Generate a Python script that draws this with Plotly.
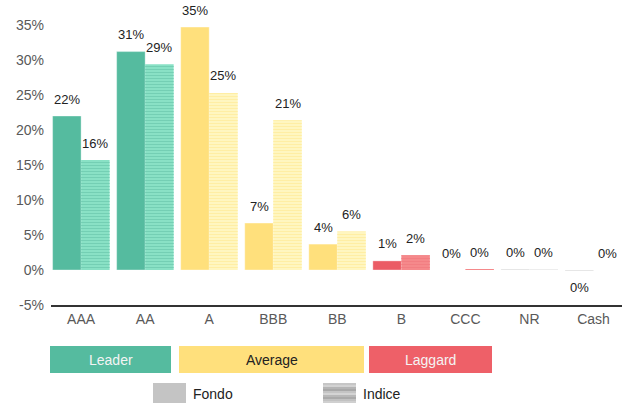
import plotly.graph_objects as go

categories = ["AAA", "AA", "A", "BBB", "BB", "B", "CCC", "NR", "Cash"]
fondo = [22.0, 31.2, 34.7, 6.7, 3.7, 1.3, 0.0, 0.1, -0.1]
indice = [15.7, 29.4, 25.3, 21.4, 5.5, 2.1, 0.1, 0.1, 0.0]
groups = ["Leader", "Leader", "Average", "Average", "Average", "Laggard", "Laggard", "None", "None"]
group_labels = ["Leader", "Average", "Laggard"]
series_labels = ["Fondo", "Indice"]

fund_col = {"Leader": "#55BB9F", "Average": "#FFE07C", "Laggard": "#EB5C65", "None": "#C4C4C4"}
idx_bg = {"Leader": "#8BE2C7", "Average": "#FFF6C2", "Laggard": "#F58A8C", "None": "#EDEDED"}
idx_fg = {"Leader": "#74CFB4", "Average": "#FFEEA4", "Laggard": "#F27E82", "None": "#E2E2E2"}

W, H = 622, 403
L, R, T, B = 51, 0, 11, 98
PW, PH = W - L - R, H - T - B
BW = 0.445

def xp(px):
    return (px - L) / PW

def yp(py):
    return (H - B - py) / PH

fig = go.Figure()
fig.add_trace(go.Bar(
    x=categories, y=fondo, name="Fondo", width=BW, offset=-BW,
    marker=dict(color=[fund_col[g] for g in groups], line=dict(width=0.6, color="rgba(255,255,255,0.6)")),
    hoverinfo="skip",
))
fig.add_trace(go.Bar(
    x=categories, y=indice, name="Indice", width=BW, offset=0,
    marker=dict(color=[idx_bg[g] for g in groups], line=dict(width=0)),
    hoverinfo="skip",
))
fig.add_trace(go.Bar(
    x=categories, y=indice, name="Indice stripes", width=BW, offset=0,
    marker=dict(
        color=[idx_fg[g] for g in groups],
        line=dict(width=0),
        pattern=dict(shape="-", size=3, solidity=0.4,
                     fgcolor=[idx_fg[g] for g in groups],
                     fillmode="replace"),
    ),
    hoverinfo="skip",
))

half = BW / 2
annotations = []
for i, cat in enumerate(categories):
    for vals, off in ((fondo, -half), (indice, half)):
        v = vals[i]
        annotations.append(dict(
            x=i + off, y=v, xref="x", yref="y",
            text=f"{round(v):.0f}%" if round(v) != 0 else "0%",
            showarrow=False, yanchor="middle",
            yshift=17 if v >= 0 else -17,
            font=dict(family="Liberation Sans, Arial", size=13, color="#222222"),
        ))

shapes = []
box_px = [(50, 171, "#55BB9F", "#F4F4F4"), (179, 364, "#FFE07C", "#222222"), (369, 492, "#EE6068", "#F4F4F4")]
for (x0, x1, c, tc), lab in zip(box_px, group_labels):
    shapes.append(dict(type="rect", xref="paper", yref="paper",
                       x0=xp(x0), x1=xp(x1), y0=yp(373), y1=yp(346),
                       fillcolor=c, line=dict(width=0), layer="above"))
    annotations.append(dict(xref="paper", yref="paper", x=xp((x0 + x1) / 2), y=yp(359.5),
                            text=lab, showarrow=False, xanchor="center", yanchor="middle",
                            font=dict(family="Liberation Sans, Arial", size=14, color=tc)))

shapes.append(dict(type="rect", xref="paper", yref="paper",
                   x0=xp(153), x1=xp(186), y0=yp(403), y1=yp(383),
                   fillcolor="#C4C4C4", line=dict(width=0)))
stripe_cols = ["#C6C6C6", "#D2D2D2", "#B4B4B4", "#A8A8A8", "#C4C4C4", "#D4D4D4", "#B8B8B8", "#AAAAAA", "#C2C2C2", "#D0D0D0"]
for k, sc in enumerate(stripe_cols):
    shapes.append(dict(type="rect", xref="paper", yref="paper",
                       x0=xp(323), x1=xp(356), y0=yp(383 + 2 * k + 2), y1=yp(383 + 2 * k),
                       fillcolor=sc, line=dict(width=0)))
for lab, px in zip(series_labels, (191, 361)):
    annotations.append(dict(xref="paper", yref="paper", x=xp(px), y=yp(393.5),
                            text=lab, showarrow=False, xanchor="left", yanchor="middle",
                            font=dict(family="Liberation Sans, Arial", size=14, color="#222222")))

fig.update_layout(
    width=W, height=H,
    margin=dict(l=L, r=R, t=T, b=B, pad=0),
    paper_bgcolor="white", plot_bgcolor="white",
    barmode="overlay",
    showlegend=False,
    font=dict(family="Liberation Sans, Arial", size=14, color="#595959"),
    annotations=annotations, shapes=shapes,
    xaxis=dict(type="category", range=[-0.47, 8.445], showgrid=False, zeroline=False,
               showline=True, linecolor="#333333", linewidth=2, ticks="",
               tickfont=dict(size=14, color="#595959")),
    yaxis=dict(range=[-5, 37], tickvals=[-5, 0, 5, 10, 15, 20, 25, 30, 35],
               ticktext=["-5%", "0%", "5%", "10%", "15%", "20%", "25%", "30%", "35%"],
               showgrid=False, zeroline=False, showline=False, ticks="",
               ticklabelstandoff=6,
               tickfont=dict(size=14, color="#595959")),
)

fig.write_html("out.html", config={"displayModeBar": False},
               post_script="document.body.style.margin='0';document.body.style.overflow='hidden';")
